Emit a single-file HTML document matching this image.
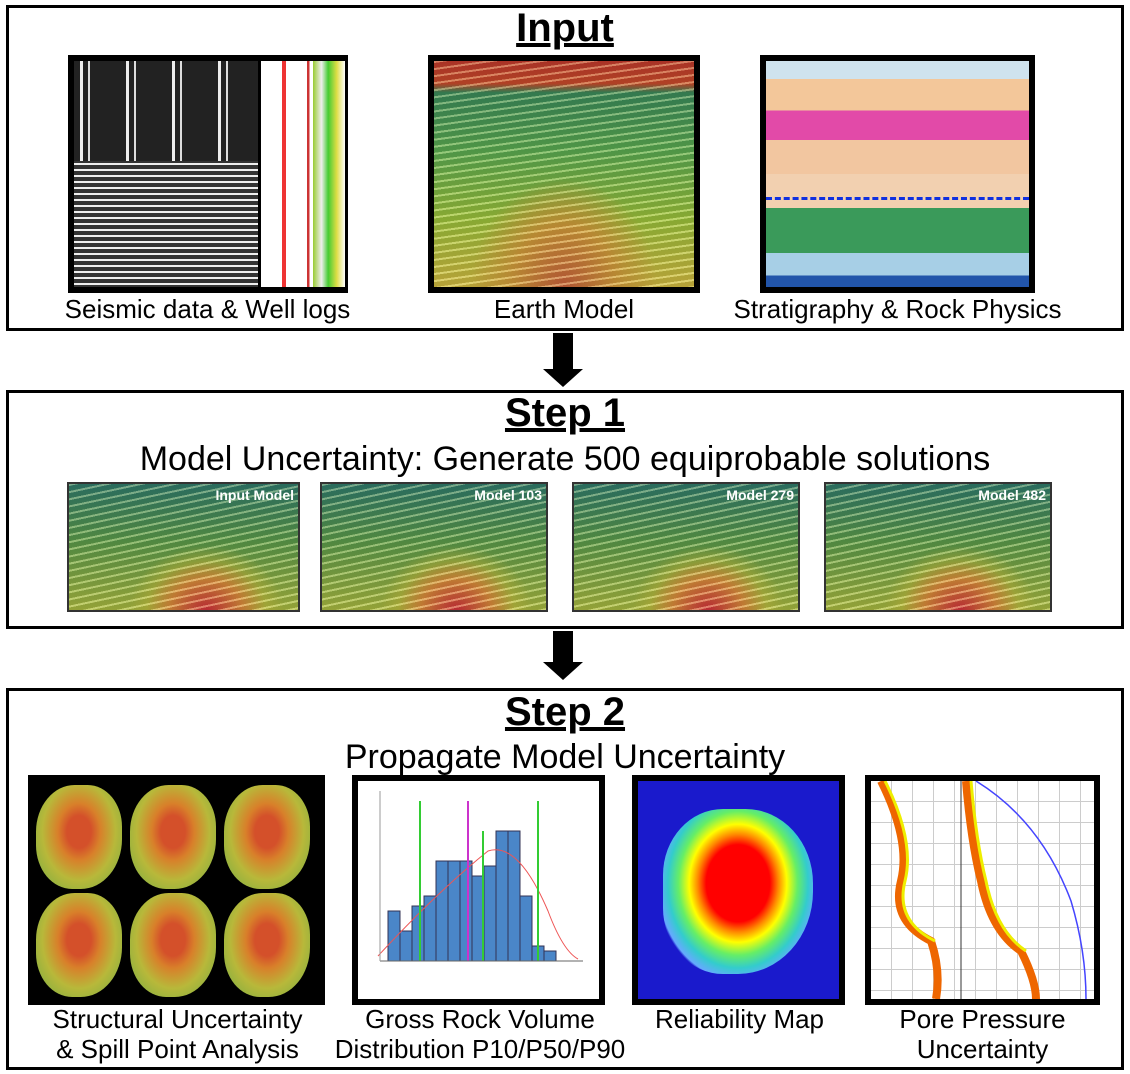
<!DOCTYPE html>
<html><head><style>
body{margin:0;width:1130px;height:1074px;background:#fff;position:relative;font-family:"Liberation Sans",Arial,sans-serif;overflow:hidden}
.box{position:absolute;border:3px solid #000;box-sizing:border-box}
.t{position:absolute;left:0;width:1130px;text-align:center;color:#000}
.h{font-weight:bold;font-size:40px;text-decoration:underline}
.s{font-size:34px}
.l{position:absolute;text-align:center;font-size:26px;line-height:30px;white-space:nowrap}
.img{position:absolute;box-sizing:border-box;border:6px solid #000}
.earth{background:repeating-linear-gradient(172deg,rgba(255,255,200,.35) 0 2px,rgba(0,0,0,.12) 2px 7px),radial-gradient(ellipse 45% 60% at 50% 100%,#c8603a 0%,#d09a3a 45%,rgba(200,200,60,0) 80%),linear-gradient(180deg,#c0392b 0%,#c84a2a 10%,#3a8a5a 14%,#5aaa50 40%,#9ac03a 70%,#d0b840 100%)}
.mini{border:2px solid #333;background:repeating-linear-gradient(168deg,rgba(255,255,200,.35) 0 2px,rgba(0,0,0,.12) 2px 7px),radial-gradient(ellipse 40% 60% at 60% 100%,#d0303a 0%,#d88a3a 40%,rgba(200,190,60,.5) 65%,rgba(0,0,0,0) 85%),linear-gradient(180deg,#2f7a6a,#5a9a4a 45%,#a8b840)}
.lab{position:absolute;right:4px;top:3px;color:#fff;font-size:14px;font-weight:bold}
.arr{position:absolute;left:553px;width:20px;background:#000}
.head{position:absolute;left:543px;width:0;height:0;border-left:20px solid transparent;border-right:20px solid transparent;border-top:18px solid #000}
.blob{position:absolute;width:86px;height:104px;border-radius:45% 40% 48% 42%;background:radial-gradient(ellipse at 50% 45%,#d4502a 0 20%,#d8802a 35%,#b8b83a 60%,#8ab040 85%,#5a9a3a 100%)}
</style></head><body>
<div class="box" style="left:6px;top:5px;width:1118px;height:326px"></div>
<div class="t h" style="top:6px">Input</div>
<div class="img" style="left:68px;top:55px;width:280px;height:238px;background:repeating-linear-gradient(180deg,#eee 0 2px,#333 2px 6px)"></div>
<div style="position:absolute;left:74px;top:61px;width:184px;height:100px;background:repeating-linear-gradient(90deg,#222 0 6px,#eee 6px 9px,#222 9px 14px,#ddd 14px 16px,#222 16px 46px)"></div>
<div style="position:absolute;left:258px;top:61px;width:84px;height:226px;background:linear-gradient(90deg,#fff 0 25%,#e33 25% 30%,#fff 30% 55%,#c33 55% 58%,#fff 58% 62%,#9c3 62%,#eee 72%,#4c3 80%,#dd4 90%,#fff);border-left:3px solid #000"></div>
<div class="img earth" style="left:428px;top:55px;width:272px;height:238px"></div>
<div class="img" style="left:760px;top:55px;width:275px;height:238px;background:linear-gradient(180deg,#cfe3ee 0 8%,#f3c79a 8% 22%,#e24aa8 22% 35%,#f2c6a0 35% 50%,#f2d0b0 50% 65%,#3a9a5a 65% 85%,#a7cfe6 85% 95%,#2255aa 95%)"></div>
<div style="position:absolute;left:766px;top:197px;width:263px;border-top:3px dashed #1030e0"></div>
<div class="l" style="left:40px;width:335px;top:294px">Seismic data &amp; Well logs</div>
<div class="l" style="left:428px;width:272px;top:294px">Earth Model</div>
<div class="l" style="left:720px;width:355px;top:294px">Stratigraphy &amp; Rock Physics</div>

<div class="arr" style="top:333px;height:40px"></div><div class="head" style="top:369px"></div>

<div class="box" style="left:6px;top:390px;width:1118px;height:239px"></div>
<div class="t h" style="top:391px">Step 1</div>
<div class="t s" style="top:440px">Model Uncertainty: Generate 500 equiprobable solutions</div>
<div class="img mini" style="left:67px;top:482px;width:233px;height:130px"><span class="lab">Input Model</span></div>
<div class="img mini" style="left:320px;top:482px;width:228px;height:130px"><span class="lab">Model 103</span></div>
<div class="img mini" style="left:572px;top:482px;width:228px;height:130px"><span class="lab">Model 279</span></div>
<div class="img mini" style="left:824px;top:482px;width:228px;height:130px"><span class="lab">Model 482</span></div>

<div class="arr" style="top:631px;height:34px"></div><div class="head" style="top:662px"></div>

<div class="box" style="left:6px;top:688px;width:1118px;height:382px"></div>
<div class="t h" style="top:690px">Step 2</div>
<div class="t s" style="top:738px">Propagate Model Uncertainty</div>
<div class="img" style="left:28px;top:775px;width:297px;height:230px;background:#000;border-width:4px">
<div class="blob" style="left:4px;top:6px"></div><div class="blob" style="left:98px;top:6px"></div><div class="blob" style="left:192px;top:6px"></div>
<div class="blob" style="left:4px;top:114px"></div><div class="blob" style="left:98px;top:114px"></div><div class="blob" style="left:192px;top:114px"></div>
</div>
<div class="img" style="left:352px;top:775px;width:253px;height:230px;background:#fff">
<svg width="241" height="218" style="position:absolute;left:0;top:0">
<g fill="#4a86c8" stroke="#335">
<rect x="30" y="130" width="12" height="50"/><rect x="42" y="150" width="12" height="30"/><rect x="54" y="125" width="12" height="55"/><rect x="66" y="115" width="12" height="65"/><rect x="78" y="80" width="12" height="100"/><rect x="90" y="80" width="12" height="100"/><rect x="102" y="80" width="12" height="100"/><rect x="114" y="95" width="12" height="85"/><rect x="126" y="85" width="12" height="95"/><rect x="138" y="50" width="12" height="130"/><rect x="150" y="50" width="12" height="130"/><rect x="162" y="115" width="12" height="65"/><rect x="174" y="165" width="12" height="15"/><rect x="186" y="170" width="12" height="10"/></g>
<path d="M20 175 Q80 110 130 70 Q160 60 190 130 Q205 170 220 178" stroke="#e55" fill="none"/>
<line x1="62" y1="20" x2="62" y2="180" stroke="#3c3" stroke-width="2"/><line x1="110" y1="20" x2="110" y2="180" stroke="#c3c" stroke-width="2"/><line x1="125" y1="50" x2="125" y2="180" stroke="#3c3" stroke-width="2"/><line x1="180" y1="20" x2="180" y2="180" stroke="#3c3" stroke-width="2"/>
<line x1="22" y1="180" x2="225" y2="180" stroke="#666"/><line x1="22" y1="10" x2="22" y2="180" stroke="#999"/>
</svg></div>
<div class="img" style="left:632px;top:775px;width:213px;height:230px;background:#1a1acc">
<div style="position:absolute;left:25px;top:28px;width:150px;height:165px;border-radius:40% 45% 50% 40%;background:radial-gradient(ellipse at 50% 45%,#f00 0 30%,#f80 38%,#ff0 46%,#6e6 56%,#3cc 66%,#6af 75%,transparent 77%)"></div></div>
<div class="img" style="left:865px;top:775px;width:235px;height:230px;background:repeating-linear-gradient(90deg,transparent 0 20px,#ccc 20px 21px),repeating-linear-gradient(180deg,#fff 0 20px,#ccc 20px 21px)">
<svg width="223" height="218" style="position:absolute;left:0;top:0"><path d="M10 0 Q40 60 30 100 Q20 140 60 160 Q70 190 65 218" stroke="#e60" stroke-width="8" fill="none"/><path d="M14 0 Q44 60 34 100 Q24 140 64 160" stroke="#ee0" stroke-width="3" fill="none"/><path d="M95 0 Q100 60 110 100 Q120 150 150 170 Q165 200 165 218" stroke="#e60" stroke-width="8" fill="none"/><path d="M100 0 Q105 60 115 100 Q125 150 155 170" stroke="#ee0" stroke-width="3" fill="none"/><path d="M105 0 Q170 40 200 120 Q215 170 215 218" stroke="#44f" stroke-width="1.5" fill="none"/><line x1="90" y1="0" x2="90" y2="218" stroke="#333"/></svg></div>
<div class="l" style="left:20px;width:315px;top:1004px">Structural Uncertainty<br>&amp; Spill Point Analysis</div>
<div class="l" style="left:330px;width:300px;top:1004px">Gross Rock Volume<br>Distribution P10/P50/P90</div>
<div class="l" style="left:622px;width:235px;top:1004px">Reliability Map</div>
<div class="l" style="left:860px;width:245px;top:1004px">Pore Pressure<br>Uncertainty</div>
</body></html>
